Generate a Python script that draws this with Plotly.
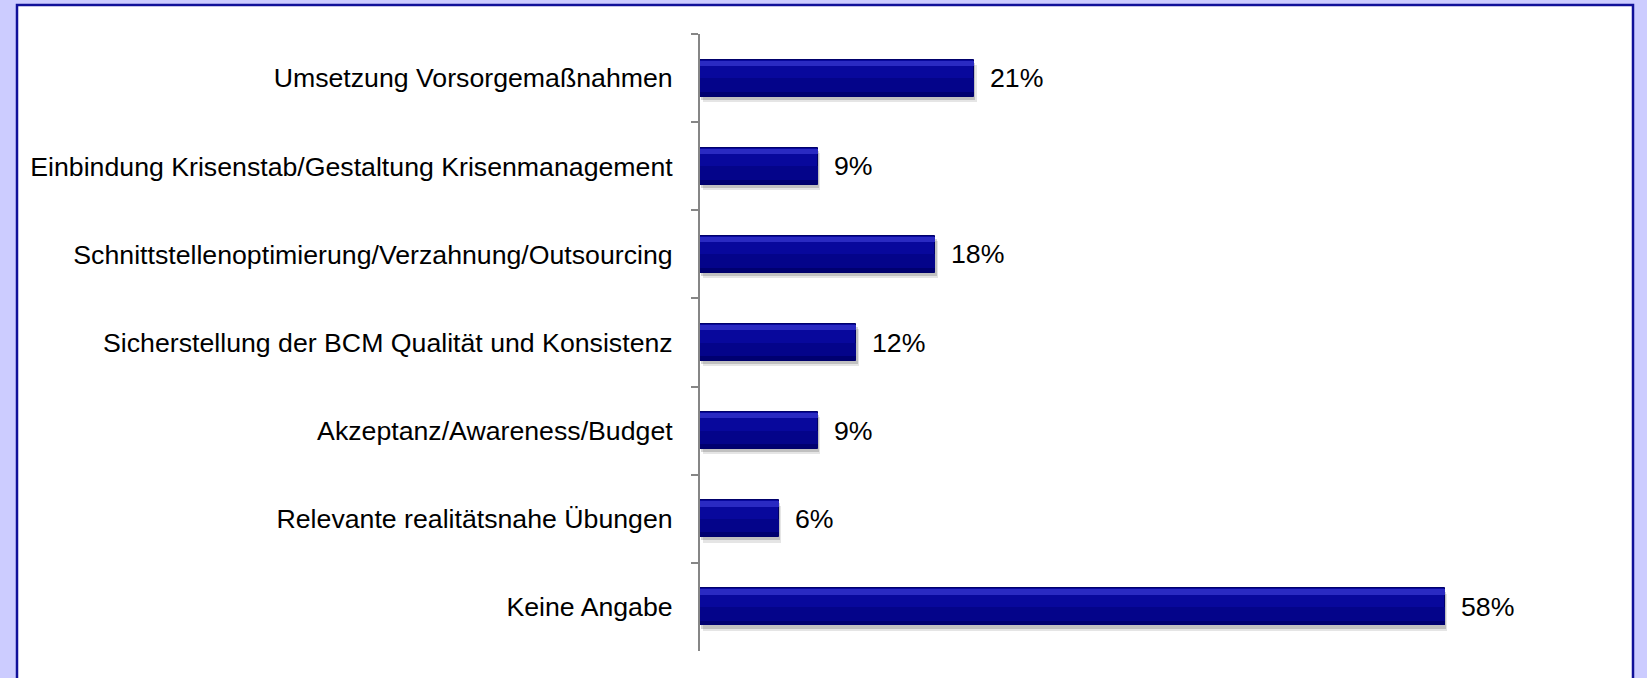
import plotly.graph_objects as go

categories = [
    "Umsetzung Vorsorgemaßnahmen",
    "Einbindung Krisenstab/Gestaltung Krisenmanagement",
    "Schnittstellenoptimierung/Verzahnung/Outsourcing",
    "Sicherstellung der BCM Qualität und Konsistenz",
    "Akzeptanz/Awareness/Budget",
    "Relevante realitätsnahe Übungen",
    "Keine Angabe",
]
values = [21.2, 9.1, 18.2, 12.1, 9.1, 6.1, 57.6]
value_labels = ["21%", "9%", "18%", "12%", "9%", "6%", "58%"]

W, H = 1647, 678
L, R, T, B = 700, 42, 34, 27
pw, ph = W - L - R, H - T - B

def px_x(x):
    return (x - L) / pw

def px_y(y):
    return (H - B - y) / ph

FONT = "Liberation Sans, Arial, sans-serif"
FS = 26.7
BW = 0.42

def layer(width, offset, color, base=None, line=None):
    return go.Bar(y=categories, x=values, base=base, orientation="h", width=width, offset=offset,
                  marker=dict(color=color, line=line or dict(width=0)),
                  hoverinfo="skip", showlegend=False)

fig = go.Figure()
# soft shadow
fig.add_trace(layer(BW, -BW / 2 + 0.06, "rgba(0,0,0,0.10)", base=0.2))
fig.add_trace(layer(BW, -BW / 2 + 0.035, "rgba(0,0,0,0.16)", base=0.1))
# main bar
fig.add_trace(go.Bar(y=categories, x=values, orientation="h", width=BW, offset=-BW / 2,
                     marker=dict(color="#08089c", line=dict(color="#00006a", width=1)),
                     showlegend=False))
# lower half slightly darker
fig.add_trace(layer(BW / 2 - 0.01, 0.0, "#04048a"))
# bottom darker edge
fig.add_trace(layer(0.045, BW / 2 - 0.055, "#000070"))
# top highlight
fig.add_trace(layer(0.06, -BW / 2 + 0.012, "#2a2ac2"))

for c, v, t in zip(categories, values, value_labels):
    fig.add_annotation(x=v, y=c, text=t, showarrow=False, xanchor="left", xshift=14,
                       font=dict(family=FONT, size=FS, color="#000000"))

# panel
fig.add_shape(type="rect", xref="paper", yref="paper",
              x0=px_x(17), x1=px_x(1633), y0=px_y(720), y1=px_y(5),
              fillcolor="white", line=dict(color="#10109a", width=2.5), layer="below")

fig.update_layout(
    width=W, height=H,
    margin=dict(l=L, r=R, t=T, b=B, autoexpand=False),
    paper_bgcolor="#ccccff",
    plot_bgcolor="rgba(0,0,0,0)",
    barmode="overlay",
    bargap=0,
    showlegend=False,
    font=dict(family=FONT, size=FS, color="#000000"),
    xaxis=dict(range=[0, 70], visible=False, fixedrange=True),
    yaxis=dict(
        type="category", autorange="reversed",
        showline=True, linecolor="#868686", linewidth=2,
        ticks="outside", tickson="boundaries", ticklen=7, tickcolor="#868686", tickwidth=1.5,
        showgrid=False, zeroline=False,
        ticklabelstandoff=20,
        tickfont=dict(family=FONT, size=FS, color="#000000"),
    ),
)

fig.write_html(
    "out.html",
    config={"displayModeBar": False},
    post_script="document.body.style.margin='0';document.body.style.background='#ccccff';document.body.style.overflow='hidden';",
)
